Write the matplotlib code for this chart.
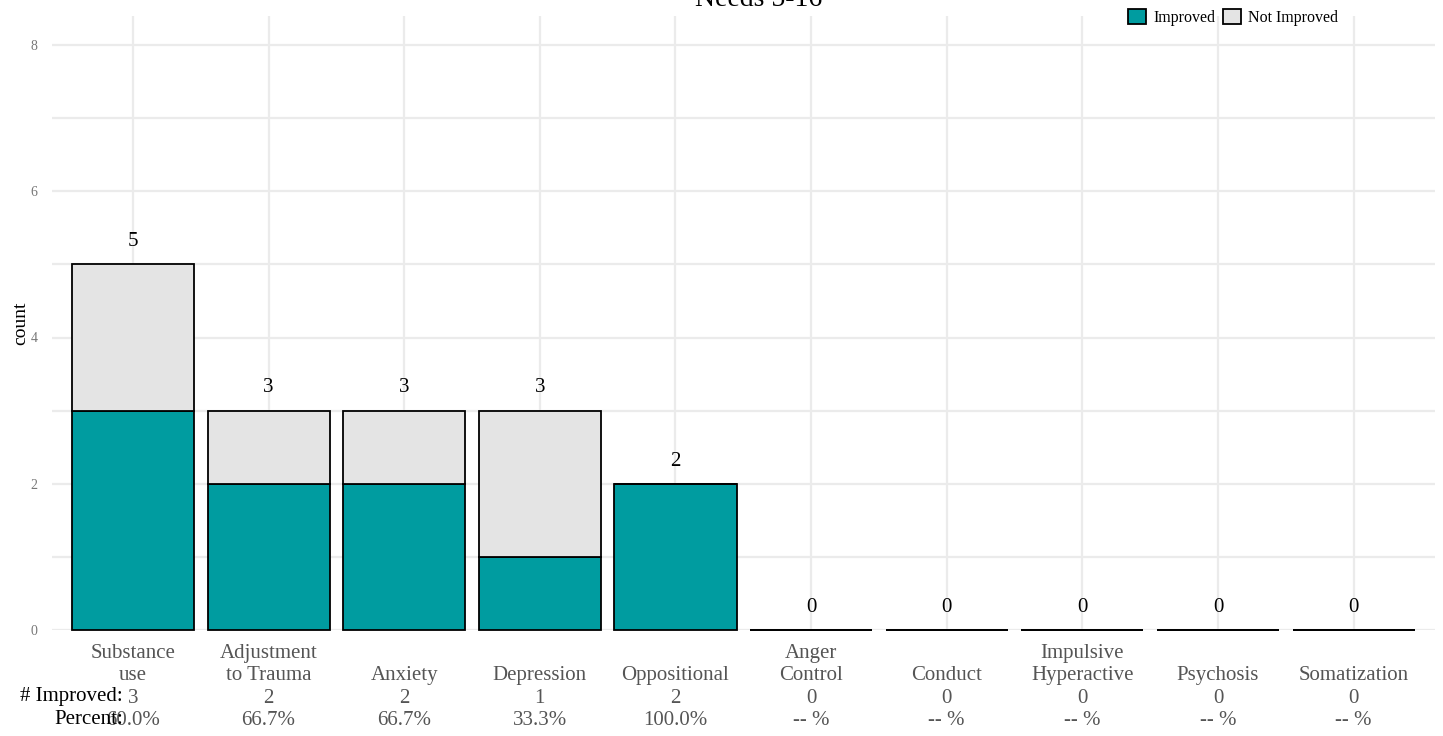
import matplotlib.pyplot as plt
import numpy as np

# data
needs = ["Substance\nuse", "Adjustment\nto Trauma", "Anxiety", "Depression", "Oppositional",
         "Anger\nControl", "Conduct", "Impulsive\nHyperactive", "Psychosis", "Somatization"]
improved = [3, 2, 2, 1, 2, 0, 0, 0, 0, 0]
not_improved = [2, 1, 1, 2, 0, 0, 0, 0, 0, 0]

teal = "#009ca0"
grey = "#e4e4e4"

plt.rcParams['font.family'] = ['Liberation Serif', 'DejaVu Serif']

fig = plt.figure(figsize=(14.43, 7.36), dpi=100)
ax = fig.add_axes([51.6 / 1443, 1 - 630 / 736, (1435 - 51.6) / 1443, (630 - 15.75) / 736])

x = np.arange(len(needs))
imp = np.array(improved)
nimp = np.array(not_improved)
total = imp + nimp

b1 = ax.bar(x, imp, width=0.9, color=teal, edgecolor="black", linewidth=1.3,
            label="Improved", zorder=3, clip_on=False)
b2 = ax.bar(x, nimp, bottom=imp, width=0.9, color=grey, edgecolor="black", linewidth=1.3,
            label="Not Improved", zorder=3, clip_on=False)

# totals above bars
for xi, t in zip(x, total):
    ax.text(xi, t + 0.31, str(t), ha="center", va="center", fontsize=15, color="black")

# tick labels with counts and percentages
labels = []
for name, i, t in zip(needs, imp, total):
    pct = f"{100 * i / t:.1f}%" if t > 0 else "-- %"
    if "\n" not in name:
        name = "\n" + name
    labels.append(f"{name}\n{i}\n{pct}")

ax.set_xticks(x)
ax.set_xticklabels(labels, fontsize=15, color="#555555", linespacing=1.25)
ax.tick_params(axis="x", length=0, pad=10)
ax.set_xlim(-0.6, len(needs) - 0.4)

ax.set_ylim(0, 8.4)
ax.set_yticks([0, 2, 4, 6, 8])
ax.set_yticks([1, 3, 5, 7], minor=True)
ax.tick_params(axis="y", which="both", length=0, labelsize=10, labelcolor="#777777", pad=10)
ax.set_ylabel("count", fontsize=14, labelpad=1)

ax.grid(True, which="major", color="#ebebeb", linewidth=1.6, zorder=0)
ax.grid(True, which="minor", axis="y", color="#ebebeb", linewidth=1.6, zorder=0)
for s in ax.spines.values():
    s.set_visible(False)

fig.text(759 / 1443, 1 - 6 / 736, "Needs 5-16", ha="center", va="baseline", fontsize=20)

fig.text(123 / 1443, 1 - 697 / 736, "# Improved:", ha="right", va="center", fontsize=15)
fig.text(123 / 1443, 1 - 719 / 736, "Percent:", ha="right", va="center", fontsize=15)

fig.legend(handles=[b1, b2], loc="upper right", bbox_to_anchor=(1348 / 1443, 1 + 1 / 736), ncol=2,
           frameon=False, fontsize=11.5, handlelength=1.15, handleheight=1.15,
           handletextpad=0.45, columnspacing=0.45, borderaxespad=0.2)

fig.savefig("out.png", dpi=100)
